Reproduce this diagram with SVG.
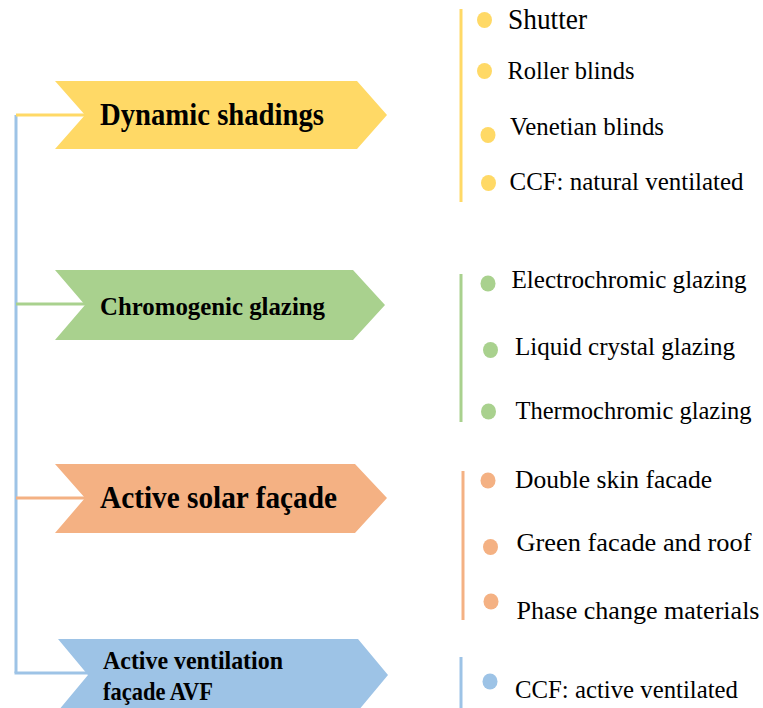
<svg xmlns="http://www.w3.org/2000/svg" width="763" height="708" viewBox="0 0 763 708">
<style>
.lbl{font-family:"Liberation Serif","Times New Roman",serif;font-weight:bold;fill:#000}
.item{font-family:"Liberation Serif","Times New Roman",serif;fill:#000;font-size:25.5px}
.y{fill:#FFD966}.g{fill:#A9D18E}.o{fill:#F4B183}.b{fill:#9DC3E6}
.ly{stroke:#FFD966}.lg{stroke:#A9D18E}.lo{stroke:#F4B183}.lb{stroke:#9DC3E6}
line{stroke-width:3;fill:none}
</style>
<rect width="763" height="708" fill="#fff"/>
<g id="connectors">
<line class="lb" x1="16" y1="115" x2="16" y2="673"/>
<line class="ly" x1="16" y1="115" x2="86" y2="115"/>
<line class="lg" x1="16" y1="304" x2="86" y2="304"/>
<line class="lo" x1="16" y1="498" x2="86" y2="498"/>
<line class="lb" x1="14.5" y1="673" x2="90" y2="673"/>
<line class="ly" x1="461" y1="9" x2="461" y2="202"/>
<line class="lg" x1="461" y1="274" x2="461" y2="422"/>
<line class="lo" x1="463" y1="471" x2="463" y2="620"/>
<line class="lb" x1="461" y1="657" x2="461" y2="708"/>
</g>
<g id="node-dynamic">
<polygon class="y" points="55,81 357,81 387,115 357,149 55,149 85,115"/>
<text class="lbl" x="100" y="124.5" font-size="31" textLength="224" lengthAdjust="spacingAndGlyphs">Dynamic shadings</text>
</g>
<g id="node-chromogenic">
<polygon class="g" points="55,270 353,270 385,305 353,340 55,340 85,305"/>
<text class="lbl" x="100" y="315" font-size="26" textLength="225" lengthAdjust="spacingAndGlyphs">Chromogenic glazing</text>
</g>
<g id="node-solar">
<polygon class="o" points="55,464 355,464 387,498 355,533 55,533 85,498"/>
<text class="lbl" x="100" y="508" font-size="31" textLength="237" lengthAdjust="spacingAndGlyphs">Active solar façade</text>
</g>
<g id="node-avf">
<polygon class="b" points="58,639 358,639 388,675 358,711 58,711 88,675"/>
<text class="lbl" x="103" y="669" font-size="25" textLength="180" lengthAdjust="spacingAndGlyphs">Active ventilation</text>
<text class="lbl" x="103" y="700" font-size="25" textLength="110" lengthAdjust="spacingAndGlyphs">façade AVF</text>
</g>
<g id="list-dynamic">
<ellipse class="y" cx="484.5" cy="20" rx="7.5" ry="8"/>
<text class="item" x="508" y="28.5" font-size="29" textLength="79" lengthAdjust="spacingAndGlyphs" style="font-size:29px">Shutter</text>
<ellipse class="y" cx="484.5" cy="71" rx="7.5" ry="8"/>
<text class="item" x="507.5" y="79" textLength="127" lengthAdjust="spacingAndGlyphs">Roller blinds</text>
<ellipse class="y" cx="488" cy="135" rx="7.5" ry="8"/>
<text class="item" x="510" y="135" textLength="154" lengthAdjust="spacingAndGlyphs">Venetian blinds</text>
<ellipse class="y" cx="488.5" cy="183" rx="7.5" ry="8"/>
<text class="item" x="509.5" y="190" textLength="234" lengthAdjust="spacingAndGlyphs">CCF: natural ventilated</text>
</g>
<g id="list-chromogenic">
<ellipse class="g" cx="488" cy="283.5" rx="7.5" ry="8"/>
<text class="item" x="511.5" y="287.5" textLength="235" lengthAdjust="spacingAndGlyphs">Electrochromic glazing</text>
<ellipse class="g" cx="490.5" cy="350" rx="7.5" ry="8"/>
<text class="item" x="515" y="355" textLength="220" lengthAdjust="spacingAndGlyphs">Liquid crystal glazing</text>
<ellipse class="g" cx="488.5" cy="411.5" rx="7.5" ry="8"/>
<text class="item" x="515.5" y="418.5" textLength="236" lengthAdjust="spacingAndGlyphs">Thermochromic glazing</text>
</g>
<g id="list-solar">
<ellipse class="o" cx="488" cy="480.5" rx="7.5" ry="8"/>
<text class="item" x="515" y="487.5" textLength="197" lengthAdjust="spacingAndGlyphs">Double skin facade</text>
<ellipse class="o" cx="490.5" cy="547" rx="7.5" ry="8"/>
<text class="item" x="516.5" y="551" textLength="235" lengthAdjust="spacingAndGlyphs">Green facade and roof</text>
<ellipse class="o" cx="491" cy="601.5" rx="7.5" ry="8"/>
<text class="item" x="516.5" y="618.5" textLength="243" lengthAdjust="spacingAndGlyphs">Phase change materials</text>
</g>
<g id="list-avf">
<ellipse class="b" cx="490" cy="681.5" rx="7.5" ry="8"/>
<text class="item" x="515" y="697.5" textLength="223" lengthAdjust="spacingAndGlyphs">CCF: active ventilated</text>
</g>
</svg>
